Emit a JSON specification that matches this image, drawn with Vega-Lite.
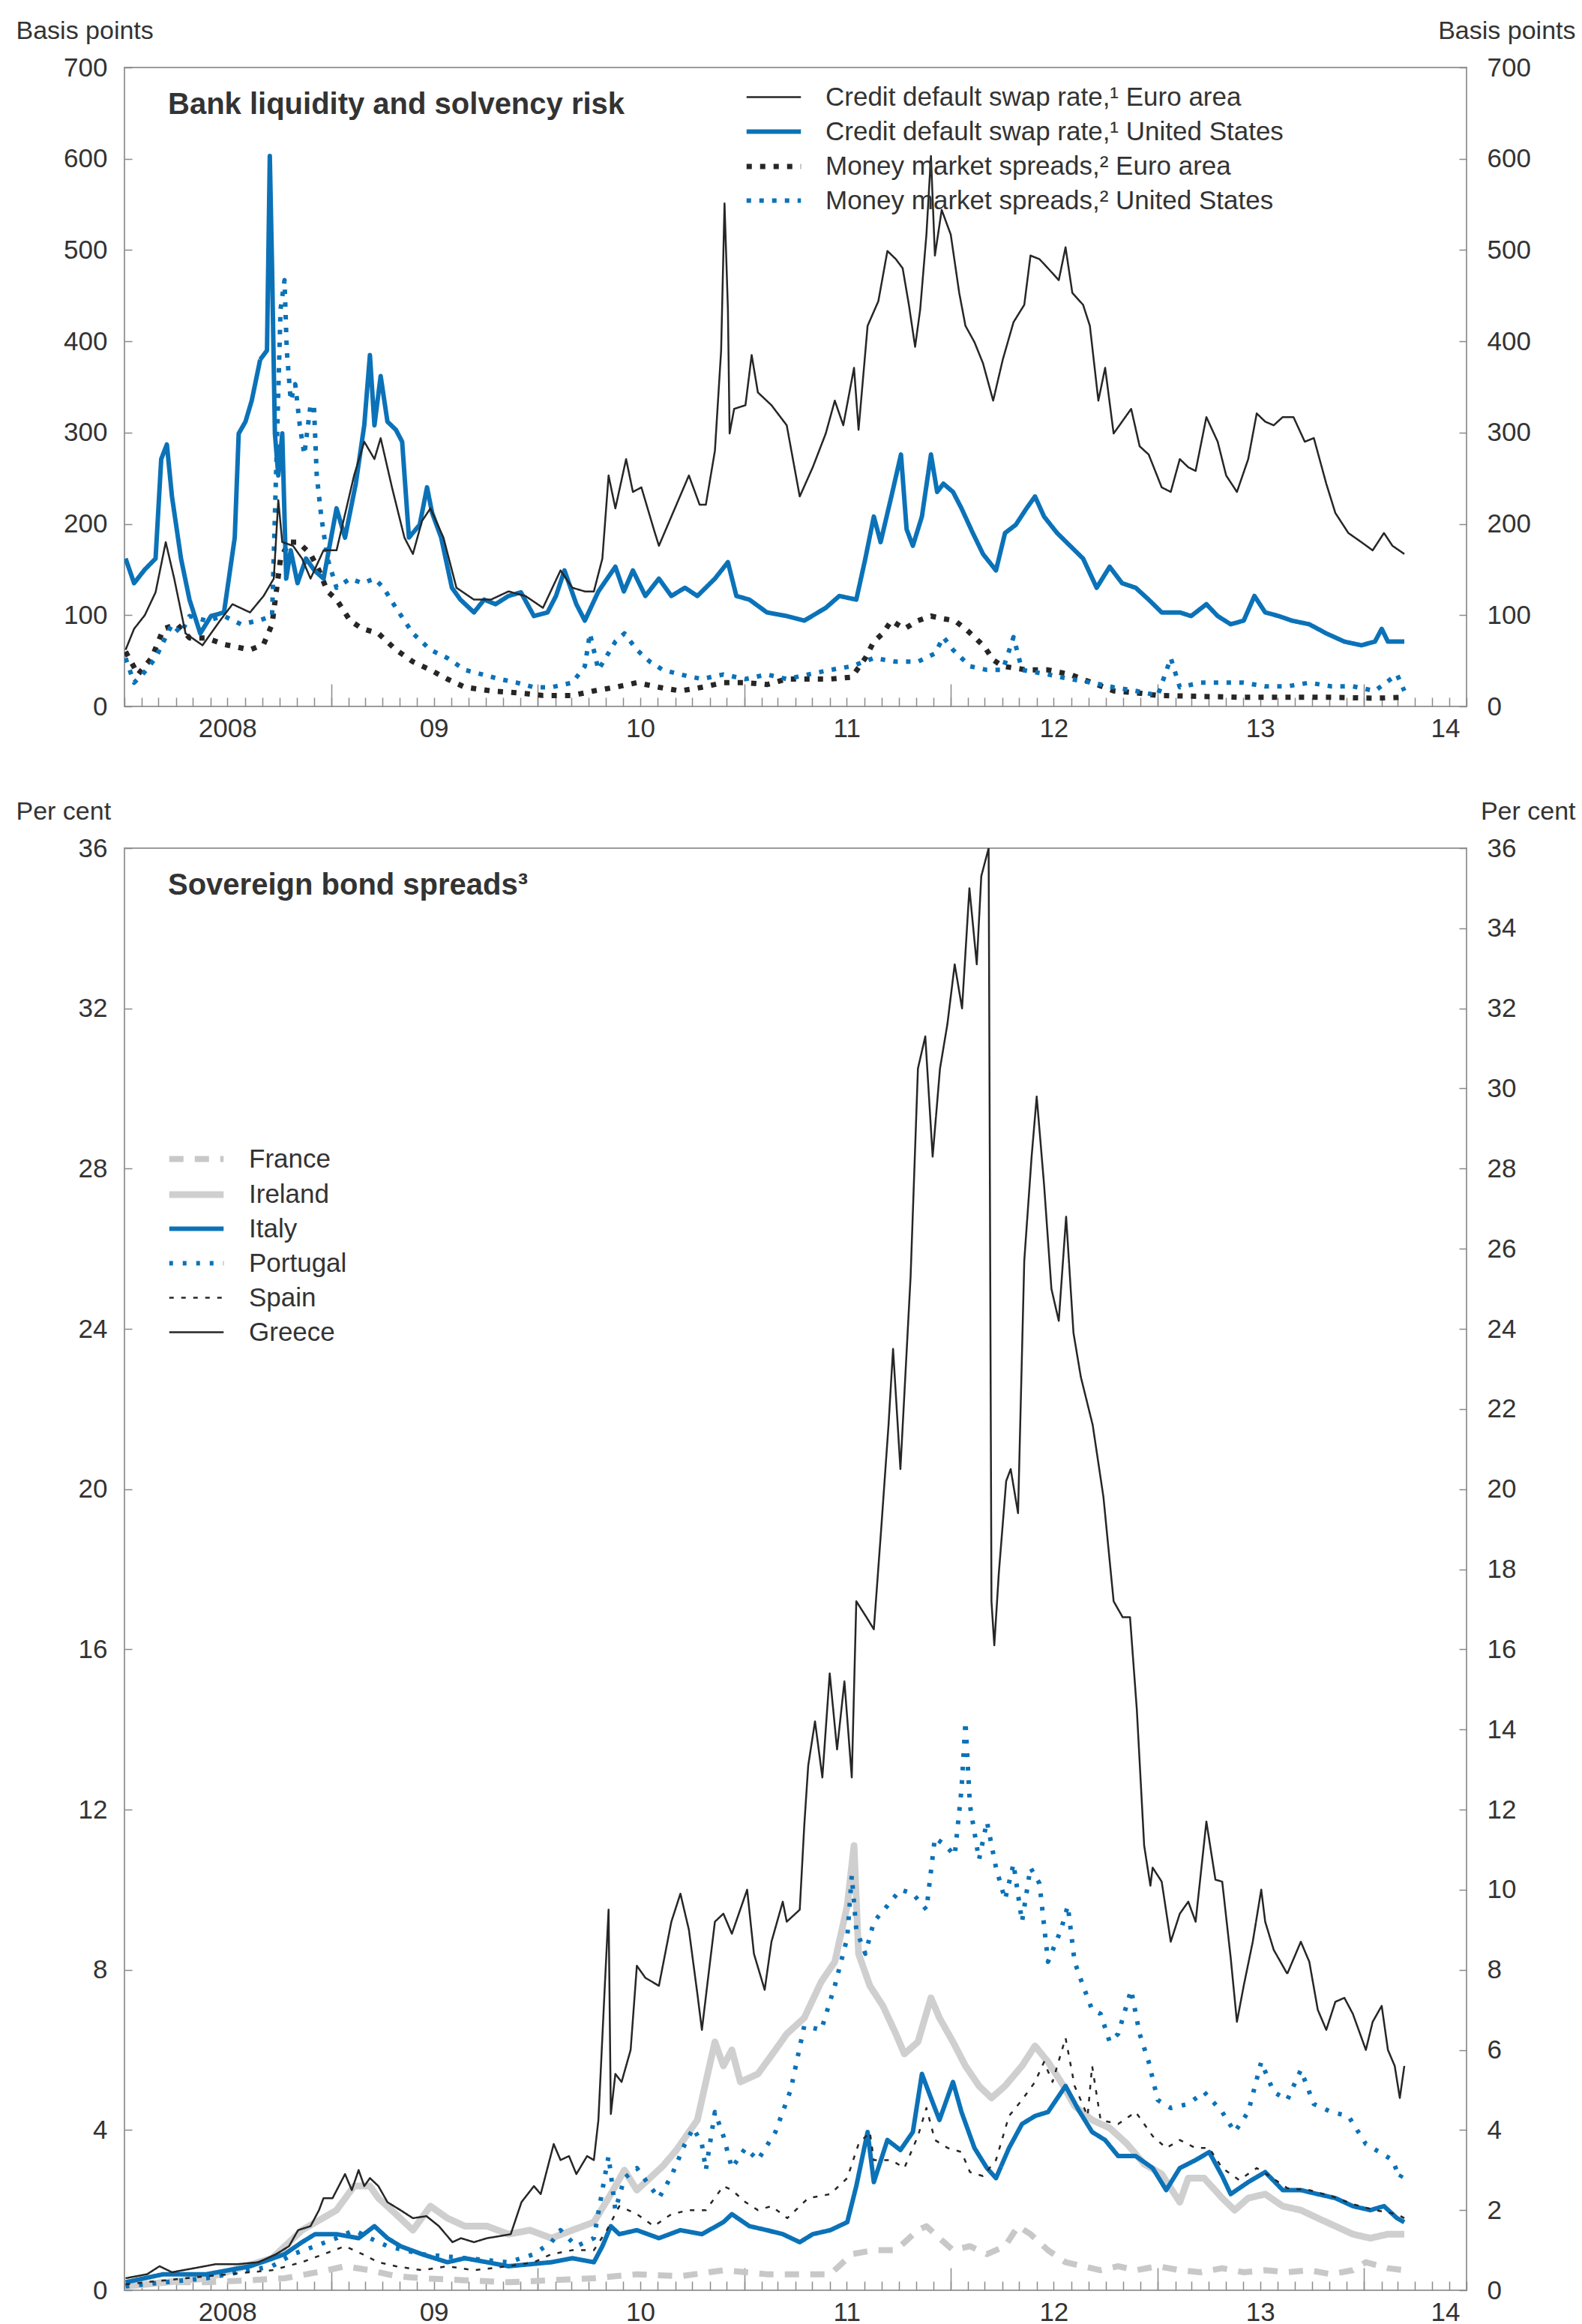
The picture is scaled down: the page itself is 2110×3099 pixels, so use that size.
{
  "$schema": "https://vega.github.io/schema/vega-lite/v6.json",
  "background": "white",
  "padding": {"left": 20, "top": 23, "right": 10, "bottom": 0},
  "bounds": "flush",
  "spacing": 189,
  "resolve": {
    "scale": {"color": "independent", "strokeDash": "independent", "strokeWidth": "independent"},
    "legend": {"color": "independent", "strokeDash": "independent", "strokeWidth": "independent"}
  },
  "config": {
    "font": "Liberation Sans",
    "view": {"stroke": "#9c9c9c", "strokeWidth": 2},
    "axis": {
      "domain": false, "grid": false,
      "labelFont": "Liberation Sans", "labelFontSize": 35, "labelColor": "#333333",
      "tickColor": "#8a8a8a", "tickWidth": 1.5,
      "titleFont": "Liberation Sans", "titleFontSize": 34, "titleFontWeight": "normal", "titleColor": "#333333"
    },
    "legend": {
      "labelFont": "Liberation Sans", "labelFontSize": 35, "labelColor": "#333333",
      "symbolType": "M-2.5,0H2.5", "symbolSize": 841, "labelOffset": 51, "rowPadding": 10, "padding": 0, "labelLimit": 0
    }
  },
  "datasets": {
    "bank": [
      {"s":"ea_mm","d":"2008-01-03","v":60},{"s":"ea_mm","d":"2008-01-25","v":35},{"s":"ea_mm","d":"2008-02-18","v":53},{"s":"ea_mm","d":"2008-03-10","v":85},{"s":"ea_mm","d":"2008-04-03","v":90},{"s":"ea_mm","d":"2008-04-25","v":75},{"s":"ea_mm","d":"2008-05-25","v":75},{"s":"ea_mm","d":"2008-06-25","v":68},{"s":"ea_mm","d":"2008-08-10","v":62},{"s":"ea_mm","d":"2008-09-03","v":68},{"s":"ea_mm","d":"2008-09-18","v":90},{"s":"ea_mm","d":"2008-10-03","v":162},{"s":"ea_mm","d":"2008-10-18","v":180},{"s":"ea_mm","d":"2008-11-03","v":180},{"s":"ea_mm","d":"2008-11-25","v":167},{"s":"ea_mm","d":"2008-12-10","v":149},{"s":"ea_mm","d":"2008-12-25","v":126},{"s":"ea_mm","d":"2009-01-10","v":117},{"s":"ea_mm","d":"2009-02-03","v":94},{"s":"ea_mm","d":"2009-02-25","v":85},{"s":"ea_mm","d":"2009-03-25","v":80},{"s":"ea_mm","d":"2009-04-25","v":62},{"s":"ea_mm","d":"2009-05-25","v":49},{"s":"ea_mm","d":"2009-06-25","v":40},{"s":"ea_mm","d":"2009-07-25","v":30},{"s":"ea_mm","d":"2009-08-25","v":21},{"s":"ea_mm","d":"2009-10-10","v":17},{"s":"ea_mm","d":"2009-11-25","v":15},{"s":"ea_mm","d":"2010-01-10","v":12},{"s":"ea_mm","d":"2010-03-03","v":12},{"s":"ea_mm","d":"2010-04-10","v":17},{"s":"ea_mm","d":"2010-05-18","v":21},{"s":"ea_mm","d":"2010-06-25","v":26},{"s":"ea_mm","d":"2010-08-03","v":21},{"s":"ea_mm","d":"2010-09-10","v":17},{"s":"ea_mm","d":"2010-10-18","v":21},{"s":"ea_mm","d":"2010-11-25","v":26},{"s":"ea_mm","d":"2011-01-03","v":26},{"s":"ea_mm","d":"2011-02-10","v":24},{"s":"ea_mm","d":"2011-03-17","v":30},{"s":"ea_mm","d":"2011-04-24","v":30},{"s":"ea_mm","d":"2011-06-02","v":30},{"s":"ea_mm","d":"2011-07-10","v":32},{"s":"ea_mm","d":"2011-08-03","v":53},{"s":"ea_mm","d":"2011-08-18","v":71},{"s":"ea_mm","d":"2011-09-03","v":80},{"s":"ea_mm","d":"2011-09-18","v":94},{"s":"ea_mm","d":"2011-10-11","v":85},{"s":"ea_mm","d":"2011-11-04","v":94},{"s":"ea_mm","d":"2011-11-27","v":99},{"s":"ea_mm","d":"2011-12-19","v":96},{"s":"ea_mm","d":"2012-01-08","v":94},{"s":"ea_mm","d":"2012-01-27","v":85},{"s":"ea_mm","d":"2012-02-12","v":76},{"s":"ea_mm","d":"2012-03-01","v":65},{"s":"ea_mm","d":"2012-03-16","v":51},{"s":"ea_mm","d":"2012-04-02","v":44},{"s":"ea_mm","d":"2012-05-14","v":40},{"s":"ea_mm","d":"2012-06-21","v":40},{"s":"ea_mm","d":"2012-07-30","v":35},{"s":"ea_mm","d":"2012-09-07","v":26},{"s":"ea_mm","d":"2012-10-15","v":17},{"s":"ea_mm","d":"2012-11-23","v":15},{"s":"ea_mm","d":"2013-01-01","v":12},{"s":"ea_mm","d":"2013-03-17","v":11},{"s":"ea_mm","d":"2013-06-02","v":10},{"s":"ea_mm","d":"2013-08-18","v":10},{"s":"ea_mm","d":"2013-11-04","v":10},{"s":"ea_mm","d":"2014-01-20","v":9},{"s":"ea_mm","d":"2014-03-13","v":10},
      {"s":"us_mm","d":"2008-01-03","v":53},{"s":"us_mm","d":"2008-01-18","v":26},{"s":"us_mm","d":"2008-02-02","v":35},{"s":"us_mm","d":"2008-02-25","v":53},{"s":"us_mm","d":"2008-03-10","v":71},{"s":"us_mm","d":"2008-03-25","v":90},{"s":"us_mm","d":"2008-04-10","v":80},{"s":"us_mm","d":"2008-04-25","v":99},{"s":"us_mm","d":"2008-05-25","v":94},{"s":"us_mm","d":"2008-06-25","v":99},{"s":"us_mm","d":"2008-07-25","v":90},{"s":"us_mm","d":"2008-08-25","v":94},{"s":"us_mm","d":"2008-09-18","v":99},{"s":"us_mm","d":"2008-09-25","v":253},{"s":"us_mm","d":"2008-10-03","v":435},{"s":"us_mm","d":"2008-10-10","v":467},{"s":"us_mm","d":"2008-10-14","v":390},{"s":"us_mm","d":"2008-10-21","v":335},{"s":"us_mm","d":"2008-10-29","v":353},{"s":"us_mm","d":"2008-11-06","v":308},{"s":"us_mm","d":"2008-11-14","v":276},{"s":"us_mm","d":"2008-11-25","v":330},{"s":"us_mm","d":"2008-12-01","v":330},{"s":"us_mm","d":"2008-12-06","v":253},{"s":"us_mm","d":"2008-12-14","v":208},{"s":"us_mm","d":"2008-12-25","v":162},{"s":"us_mm","d":"2009-01-10","v":130},{"s":"us_mm","d":"2009-02-03","v":140},{"s":"us_mm","d":"2009-02-25","v":135},{"s":"us_mm","d":"2009-03-18","v":140},{"s":"us_mm","d":"2009-04-03","v":130},{"s":"us_mm","d":"2009-04-25","v":108},{"s":"us_mm","d":"2009-05-25","v":80},{"s":"us_mm","d":"2009-06-25","v":62},{"s":"us_mm","d":"2009-07-25","v":53},{"s":"us_mm","d":"2009-08-25","v":40},{"s":"us_mm","d":"2009-09-25","v":35},{"s":"us_mm","d":"2009-10-25","v":30},{"s":"us_mm","d":"2009-11-25","v":26},{"s":"us_mm","d":"2009-12-25","v":21},{"s":"us_mm","d":"2010-01-25","v":21},{"s":"us_mm","d":"2010-03-03","v":26},{"s":"us_mm","d":"2010-03-25","v":44},{"s":"us_mm","d":"2010-04-03","v":80},{"s":"us_mm","d":"2010-04-18","v":40},{"s":"us_mm","d":"2010-05-18","v":71},{"s":"us_mm","d":"2010-06-03","v":80},{"s":"us_mm","d":"2010-06-25","v":62},{"s":"us_mm","d":"2010-07-18","v":49},{"s":"us_mm","d":"2010-08-10","v":40},{"s":"us_mm","d":"2010-09-10","v":35},{"s":"us_mm","d":"2010-10-18","v":30},{"s":"us_mm","d":"2010-11-25","v":35},{"s":"us_mm","d":"2011-01-03","v":30},{"s":"us_mm","d":"2011-02-10","v":35},{"s":"us_mm","d":"2011-03-17","v":30},{"s":"us_mm","d":"2011-04-24","v":35},{"s":"us_mm","d":"2011-06-02","v":40},{"s":"us_mm","d":"2011-07-10","v":44},{"s":"us_mm","d":"2011-08-18","v":53},{"s":"us_mm","d":"2011-09-26","v":49},{"s":"us_mm","d":"2011-11-04","v":49},{"s":"us_mm","d":"2011-12-04","v":58},{"s":"us_mm","d":"2011-12-19","v":76},{"s":"us_mm","d":"2012-01-05","v":62},{"s":"us_mm","d":"2012-01-20","v":53},{"s":"us_mm","d":"2012-02-04","v":44},{"s":"us_mm","d":"2012-03-05","v":40},{"s":"us_mm","d":"2012-04-02","v":40},{"s":"us_mm","d":"2012-04-21","v":76},{"s":"us_mm","d":"2012-05-06","v":40},{"s":"us_mm","d":"2012-06-21","v":35},{"s":"us_mm","d":"2012-07-30","v":30},{"s":"us_mm","d":"2012-09-07","v":26},{"s":"us_mm","d":"2012-10-15","v":21},{"s":"us_mm","d":"2012-11-23","v":17},{"s":"us_mm","d":"2013-01-01","v":12},{"s":"us_mm","d":"2013-01-24","v":53},{"s":"us_mm","d":"2013-02-09","v":21},{"s":"us_mm","d":"2013-03-17","v":26},{"s":"us_mm","d":"2013-05-02","v":26},{"s":"us_mm","d":"2013-06-02","v":26},{"s":"us_mm","d":"2013-07-10","v":22},{"s":"us_mm","d":"2013-08-18","v":22},{"s":"us_mm","d":"2013-09-26","v":26},{"s":"us_mm","d":"2013-11-04","v":22},{"s":"us_mm","d":"2013-12-12","v":22},{"s":"us_mm","d":"2014-01-20","v":17},{"s":"us_mm","d":"2014-02-28","v":35},{"s":"us_mm","d":"2014-03-13","v":17},
      {"s":"us_cds","d":"2008-01-03","v":162},{"s":"us_cds","d":"2008-01-18","v":135},{"s":"us_cds","d":"2008-02-06","v":150},{"s":"us_cds","d":"2008-02-25","v":162},{"s":"us_cds","d":"2008-03-06","v":271},{"s":"us_cds","d":"2008-03-16","v":287},{"s":"us_cds","d":"2008-03-25","v":230},{"s":"us_cds","d":"2008-04-10","v":162},{"s":"us_cds","d":"2008-04-25","v":117},{"s":"us_cds","d":"2008-05-14","v":80},{"s":"us_cds","d":"2008-06-02","v":99},{"s":"us_cds","d":"2008-06-25","v":103},{"s":"us_cds","d":"2008-07-14","v":185},{"s":"us_cds","d":"2008-07-21","v":299},{"s":"us_cds","d":"2008-08-02","v":312},{"s":"us_cds","d":"2008-08-13","v":335},{"s":"us_cds","d":"2008-08-28","v":380},{"s":"us_cds","d":"2008-09-09","v":390},{"s":"us_cds","d":"2008-09-14","v":603},{"s":"us_cds","d":"2008-09-18","v":480},{"s":"us_cds","d":"2008-09-23","v":299},{"s":"us_cds","d":"2008-09-29","v":253},{"s":"us_cds","d":"2008-10-06","v":299},{"s":"us_cds","d":"2008-10-13","v":140},{"s":"us_cds","d":"2008-10-21","v":171},{"s":"us_cds","d":"2008-11-02","v":135},{"s":"us_cds","d":"2008-11-17","v":162},{"s":"us_cds","d":"2008-12-02","v":149},{"s":"us_cds","d":"2008-12-18","v":140},{"s":"us_cds","d":"2009-01-10","v":217},{"s":"us_cds","d":"2009-01-25","v":185},{"s":"us_cds","d":"2009-02-13","v":244},{"s":"us_cds","d":"2009-02-28","v":308},{"s":"us_cds","d":"2009-03-10","v":385},{"s":"us_cds","d":"2009-03-18","v":308},{"s":"us_cds","d":"2009-03-29","v":362},{"s":"us_cds","d":"2009-04-10","v":312},{"s":"us_cds","d":"2009-04-25","v":303},{"s":"us_cds","d":"2009-05-06","v":290},{"s":"us_cds","d":"2009-05-18","v":185},{"s":"us_cds","d":"2009-06-06","v":199},{"s":"us_cds","d":"2009-06-19","v":240},{"s":"us_cds","d":"2009-06-28","v":212},{"s":"us_cds","d":"2009-07-14","v":185},{"s":"us_cds","d":"2009-08-02","v":130},{"s":"us_cds","d":"2009-08-17","v":117},{"s":"us_cds","d":"2009-09-10","v":103},{"s":"us_cds","d":"2009-09-28","v":117},{"s":"us_cds","d":"2009-10-18","v":112},{"s":"us_cds","d":"2009-11-10","v":121},{"s":"us_cds","d":"2009-12-02","v":125},{"s":"us_cds","d":"2009-12-25","v":99},{"s":"us_cds","d":"2010-01-18","v":103},{"s":"us_cds","d":"2010-02-02","v":121},{"s":"us_cds","d":"2010-02-17","v":149},{"s":"us_cds","d":"2010-03-10","v":112},{"s":"us_cds","d":"2010-03-25","v":94},{"s":"us_cds","d":"2010-04-18","v":126},{"s":"us_cds","d":"2010-05-18","v":153},{"s":"us_cds","d":"2010-06-02","v":126},{"s":"us_cds","d":"2010-06-18","v":149},{"s":"us_cds","d":"2010-07-10","v":121},{"s":"us_cds","d":"2010-08-03","v":140},{"s":"us_cds","d":"2010-08-25","v":121},{"s":"us_cds","d":"2010-09-18","v":130},{"s":"us_cds","d":"2010-10-10","v":121},{"s":"us_cds","d":"2010-11-10","v":140},{"s":"us_cds","d":"2010-12-03","v":158},{"s":"us_cds","d":"2010-12-18","v":121},{"s":"us_cds","d":"2011-01-10","v":117},{"s":"us_cds","d":"2011-02-10","v":103},{"s":"us_cds","d":"2011-03-17","v":99},{"s":"us_cds","d":"2011-04-17","v":94},{"s":"us_cds","d":"2011-05-25","v":108},{"s":"us_cds","d":"2011-06-18","v":121},{"s":"us_cds","d":"2011-07-18","v":117},{"s":"us_cds","d":"2011-08-03","v":162},{"s":"us_cds","d":"2011-08-18","v":208},{"s":"us_cds","d":"2011-08-30","v":180},{"s":"us_cds","d":"2011-09-18","v":230},{"s":"us_cds","d":"2011-10-05","v":276},{"s":"us_cds","d":"2011-10-15","v":194},{"s":"us_cds","d":"2011-10-26","v":176},{"s":"us_cds","d":"2011-11-11","v":208},{"s":"us_cds","d":"2011-11-27","v":276},{"s":"us_cds","d":"2011-12-08","v":235},{"s":"us_cds","d":"2011-12-19","v":244},{"s":"us_cds","d":"2012-01-05","v":235},{"s":"us_cds","d":"2012-01-20","v":217},{"s":"us_cds","d":"2012-02-09","v":190},{"s":"us_cds","d":"2012-02-27","v":167},{"s":"us_cds","d":"2012-03-21","v":149},{"s":"us_cds","d":"2012-04-06","v":190},{"s":"us_cds","d":"2012-04-25","v":199},{"s":"us_cds","d":"2012-05-14","v":217},{"s":"us_cds","d":"2012-05-29","v":230},{"s":"us_cds","d":"2012-06-14","v":208},{"s":"us_cds","d":"2012-07-07","v":190},{"s":"us_cds","d":"2012-07-30","v":176},{"s":"us_cds","d":"2012-08-22","v":162},{"s":"us_cds","d":"2012-09-15","v":130},{"s":"us_cds","d":"2012-10-08","v":153},{"s":"us_cds","d":"2012-10-30","v":135},{"s":"us_cds","d":"2012-11-23","v":130},{"s":"us_cds","d":"2012-12-16","v":117},{"s":"us_cds","d":"2013-01-08","v":103},{"s":"us_cds","d":"2013-02-09","v":103},{"s":"us_cds","d":"2013-03-01","v":99},{"s":"us_cds","d":"2013-03-28","v":112},{"s":"us_cds","d":"2013-04-17","v":99},{"s":"us_cds","d":"2013-05-10","v":90},{"s":"us_cds","d":"2013-06-02","v":94},{"s":"us_cds","d":"2013-06-21","v":121},{"s":"us_cds","d":"2013-07-10","v":103},{"s":"us_cds","d":"2013-08-03","v":99},{"s":"us_cds","d":"2013-08-26","v":94},{"s":"us_cds","d":"2013-09-26","v":90},{"s":"us_cds","d":"2013-10-26","v":80},{"s":"us_cds","d":"2013-11-27","v":71},{"s":"us_cds","d":"2013-12-27","v":67},{"s":"us_cds","d":"2014-01-20","v":71},{"s":"us_cds","d":"2014-02-01","v":85},{"s":"us_cds","d":"2014-02-12","v":71},{"s":"us_cds","d":"2014-03-13","v":71},
      {"s":"ea_cds","d":"2008-01-03","v":62},{"s":"ea_cds","d":"2008-01-18","v":85},{"s":"ea_cds","d":"2008-02-06","v":100},{"s":"ea_cds","d":"2008-02-25","v":125},{"s":"ea_cds","d":"2008-03-14","v":180},{"s":"ea_cds","d":"2008-03-29","v":140},{"s":"ea_cds","d":"2008-04-18","v":80},{"s":"ea_cds","d":"2008-05-18","v":67},{"s":"ea_cds","d":"2008-06-18","v":94},{"s":"ea_cds","d":"2008-07-10","v":112},{"s":"ea_cds","d":"2008-08-10","v":103},{"s":"ea_cds","d":"2008-09-03","v":121},{"s":"ea_cds","d":"2008-09-21","v":140},{"s":"ea_cds","d":"2008-09-29","v":226},{"s":"ea_cds","d":"2008-10-06","v":180},{"s":"ea_cds","d":"2008-10-25","v":176},{"s":"ea_cds","d":"2008-11-10","v":162},{"s":"ea_cds","d":"2008-11-25","v":140},{"s":"ea_cds","d":"2008-12-18","v":171},{"s":"ea_cds","d":"2009-01-10","v":171},{"s":"ea_cds","d":"2009-02-10","v":253},{"s":"ea_cds","d":"2009-02-28","v":290},{"s":"ea_cds","d":"2009-03-18","v":271},{"s":"ea_cds","d":"2009-03-29","v":294},{"s":"ea_cds","d":"2009-04-18","v":240},{"s":"ea_cds","d":"2009-05-10","v":185},{"s":"ea_cds","d":"2009-05-25","v":167},{"s":"ea_cds","d":"2009-06-10","v":203},{"s":"ea_cds","d":"2009-06-25","v":217},{"s":"ea_cds","d":"2009-07-18","v":185},{"s":"ea_cds","d":"2009-08-10","v":130},{"s":"ea_cds","d":"2009-09-10","v":117},{"s":"ea_cds","d":"2009-10-10","v":117},{"s":"ea_cds","d":"2009-11-10","v":126},{"s":"ea_cds","d":"2009-12-10","v":121},{"s":"ea_cds","d":"2010-01-10","v":108},{"s":"ea_cds","d":"2010-02-10","v":149},{"s":"ea_cds","d":"2010-03-03","v":130},{"s":"ea_cds","d":"2010-03-25","v":126},{"s":"ea_cds","d":"2010-04-10","v":126},{"s":"ea_cds","d":"2010-04-25","v":162},{"s":"ea_cds","d":"2010-05-06","v":253},{"s":"ea_cds","d":"2010-05-18","v":217},{"s":"ea_cds","d":"2010-06-06","v":271},{"s":"ea_cds","d":"2010-06-18","v":235},{"s":"ea_cds","d":"2010-07-03","v":240},{"s":"ea_cds","d":"2010-07-25","v":194},{"s":"ea_cds","d":"2010-08-03","v":176},{"s":"ea_cds","d":"2010-08-25","v":208},{"s":"ea_cds","d":"2010-09-25","v":253},{"s":"ea_cds","d":"2010-10-14","v":221},{"s":"ea_cds","d":"2010-10-25","v":221},{"s":"ea_cds","d":"2010-11-10","v":280},{"s":"ea_cds","d":"2010-11-21","v":390},{"s":"ea_cds","d":"2010-11-27","v":551},{"s":"ea_cds","d":"2010-12-03","v":435},{"s":"ea_cds","d":"2010-12-06","v":299},{"s":"ea_cds","d":"2010-12-14","v":326},{"s":"ea_cds","d":"2011-01-03","v":330},{"s":"ea_cds","d":"2011-01-14","v":385},{"s":"ea_cds","d":"2011-01-25","v":344},{"s":"ea_cds","d":"2011-02-18","v":330},{"s":"ea_cds","d":"2011-03-17","v":308},{"s":"ea_cds","d":"2011-04-09","v":230},{"s":"ea_cds","d":"2011-05-02","v":262},{"s":"ea_cds","d":"2011-05-25","v":299},{"s":"ea_cds","d":"2011-06-10","v":335},{"s":"ea_cds","d":"2011-06-25","v":308},{"s":"ea_cds","d":"2011-07-14","v":371},{"s":"ea_cds","d":"2011-07-22","v":303},{"s":"ea_cds","d":"2011-08-07","v":417},{"s":"ea_cds","d":"2011-08-26","v":444},{"s":"ea_cds","d":"2011-09-11","v":499},{"s":"ea_cds","d":"2011-09-26","v":490},{"s":"ea_cds","d":"2011-10-08","v":480},{"s":"ea_cds","d":"2011-10-19","v":440},{"s":"ea_cds","d":"2011-10-30","v":394},{"s":"ea_cds","d":"2011-11-08","v":435},{"s":"ea_cds","d":"2011-11-19","v":517},{"s":"ea_cds","d":"2011-11-27","v":603},{"s":"ea_cds","d":"2011-12-04","v":494},{"s":"ea_cds","d":"2011-12-16","v":544},{"s":"ea_cds","d":"2012-01-01","v":517},{"s":"ea_cds","d":"2012-01-16","v":453},{"s":"ea_cds","d":"2012-01-27","v":417},{"s":"ea_cds","d":"2012-02-12","v":399},{"s":"ea_cds","d":"2012-02-27","v":376},{"s":"ea_cds","d":"2012-03-16","v":335},{"s":"ea_cds","d":"2012-04-02","v":380},{"s":"ea_cds","d":"2012-04-21","v":421},{"s":"ea_cds","d":"2012-05-10","v":440},{"s":"ea_cds","d":"2012-05-21","v":494},{"s":"ea_cds","d":"2012-06-06","v":490},{"s":"ea_cds","d":"2012-06-21","v":480},{"s":"ea_cds","d":"2012-07-10","v":467},{"s":"ea_cds","d":"2012-07-22","v":503},{"s":"ea_cds","d":"2012-08-03","v":453},{"s":"ea_cds","d":"2012-08-22","v":440},{"s":"ea_cds","d":"2012-09-03","v":417},{"s":"ea_cds","d":"2012-09-18","v":335},{"s":"ea_cds","d":"2012-09-30","v":371},{"s":"ea_cds","d":"2012-10-15","v":299},{"s":"ea_cds","d":"2012-11-15","v":326},{"s":"ea_cds","d":"2012-11-30","v":285},{"s":"ea_cds","d":"2012-12-16","v":276},{"s":"ea_cds","d":"2013-01-08","v":240},{"s":"ea_cds","d":"2013-01-24","v":235},{"s":"ea_cds","d":"2013-02-09","v":271},{"s":"ea_cds","d":"2013-02-24","v":262},{"s":"ea_cds","d":"2013-03-09","v":258},{"s":"ea_cds","d":"2013-03-28","v":317},{"s":"ea_cds","d":"2013-04-17","v":290},{"s":"ea_cds","d":"2013-05-02","v":253},{"s":"ea_cds","d":"2013-05-21","v":235},{"s":"ea_cds","d":"2013-06-10","v":271},{"s":"ea_cds","d":"2013-06-25","v":321},{"s":"ea_cds","d":"2013-07-10","v":312},{"s":"ea_cds","d":"2013-07-25","v":308},{"s":"ea_cds","d":"2013-08-10","v":317},{"s":"ea_cds","d":"2013-08-29","v":317},{"s":"ea_cds","d":"2013-09-18","v":290},{"s":"ea_cds","d":"2013-10-04","v":294},{"s":"ea_cds","d":"2013-10-26","v":244},{"s":"ea_cds","d":"2013-11-11","v":212},{"s":"ea_cds","d":"2013-12-04","v":190},{"s":"ea_cds","d":"2013-12-27","v":180},{"s":"ea_cds","d":"2014-01-16","v":171},{"s":"ea_cds","d":"2014-02-05","v":190},{"s":"ea_cds","d":"2014-02-20","v":176},{"s":"ea_cds","d":"2014-03-13","v":167}
    ],
    "sov": [
      {"s":"France","d":"2008-01-03","v":0.1},{"s":"France","d":"2008-03-10","v":0.2},{"s":"France","d":"2008-05-25","v":0.2},{"s":"France","d":"2008-08-10","v":0.25},{"s":"France","d":"2008-10-10","v":0.3},{"s":"France","d":"2008-11-18","v":0.4},{"s":"France","d":"2008-12-25","v":0.5},{"s":"France","d":"2009-01-25","v":0.6},{"s":"France","d":"2009-03-10","v":0.5},{"s":"France","d":"2009-04-25","v":0.35},{"s":"France","d":"2009-06-10","v":0.3},{"s":"France","d":"2009-08-25","v":0.25},{"s":"France","d":"2009-11-10","v":0.2},{"s":"France","d":"2010-01-25","v":0.25},{"s":"France","d":"2010-04-10","v":0.3},{"s":"France","d":"2010-06-25","v":0.4},{"s":"France","d":"2010-09-10","v":0.35},{"s":"France","d":"2010-11-25","v":0.5},{"s":"France","d":"2011-02-10","v":0.4},{"s":"France","d":"2011-03-17","v":0.4},{"s":"France","d":"2011-06-02","v":0.4},{"s":"France","d":"2011-07-10","v":0.9},{"s":"France","d":"2011-08-18","v":1.0},{"s":"France","d":"2011-09-26","v":1.0},{"s":"France","d":"2011-11-04","v":1.5},{"s":"France","d":"2011-11-19","v":1.6},{"s":"France","d":"2011-12-12","v":1.3},{"s":"France","d":"2012-01-05","v":1.0},{"s":"France","d":"2012-02-04","v":1.1},{"s":"France","d":"2012-03-05","v":0.9},{"s":"France","d":"2012-04-06","v":1.1},{"s":"France","d":"2012-04-29","v":1.6},{"s":"France","d":"2012-05-21","v":1.4},{"s":"France","d":"2012-06-21","v":1.0},{"s":"France","d":"2012-07-22","v":0.7},{"s":"France","d":"2012-08-22","v":0.6},{"s":"France","d":"2012-09-22","v":0.5},{"s":"France","d":"2012-10-23","v":0.6},{"s":"France","d":"2012-11-23","v":0.5},{"s":"France","d":"2013-01-01","v":0.6},{"s":"France","d":"2013-02-09","v":0.5},{"s":"France","d":"2013-03-17","v":0.45},{"s":"France","d":"2013-04-25","v":0.55},{"s":"France","d":"2013-06-02","v":0.45},{"s":"France","d":"2013-07-10","v":0.5},{"s":"France","d":"2013-08-18","v":0.45},{"s":"France","d":"2013-09-26","v":0.5},{"s":"France","d":"2013-11-04","v":0.4},{"s":"France","d":"2013-12-12","v":0.5},{"s":"France","d":"2014-01-04","v":0.7},{"s":"France","d":"2014-02-12","v":0.55},{"s":"France","d":"2014-03-13","v":0.5},
      {"s":"Ireland","d":"2008-01-03","v":0.1},{"s":"Ireland","d":"2008-05-25","v":0.3},{"s":"Ireland","d":"2008-09-18","v":0.8},{"s":"Ireland","d":"2008-11-10","v":1.5},{"s":"Ireland","d":"2009-01-10","v":2.0},{"s":"Ireland","d":"2009-02-10","v":2.6},{"s":"Ireland","d":"2009-03-10","v":2.6},{"s":"Ireland","d":"2009-03-25","v":2.3},{"s":"Ireland","d":"2009-04-25","v":1.9},{"s":"Ireland","d":"2009-05-25","v":1.5},{"s":"Ireland","d":"2009-06-25","v":2.1},{"s":"Ireland","d":"2009-07-25","v":1.8},{"s":"Ireland","d":"2009-08-25","v":1.6},{"s":"Ireland","d":"2009-10-03","v":1.6},{"s":"Ireland","d":"2009-11-10","v":1.4},{"s":"Ireland","d":"2009-12-18","v":1.5},{"s":"Ireland","d":"2010-01-25","v":1.3},{"s":"Ireland","d":"2010-03-03","v":1.5},{"s":"Ireland","d":"2010-04-10","v":1.7},{"s":"Ireland","d":"2010-05-10","v":2.4},{"s":"Ireland","d":"2010-06-03","v":3.0},{"s":"Ireland","d":"2010-06-25","v":2.5},{"s":"Ireland","d":"2010-07-18","v":2.8},{"s":"Ireland","d":"2010-08-10","v":3.1},{"s":"Ireland","d":"2010-09-03","v":3.5},{"s":"Ireland","d":"2010-10-10","v":4.25},{"s":"Ireland","d":"2010-10-25","v":5.2},{"s":"Ireland","d":"2010-11-10","v":6.2},{"s":"Ireland","d":"2010-11-25","v":5.6},{"s":"Ireland","d":"2010-12-10","v":6.0},{"s":"Ireland","d":"2010-12-25","v":5.2},{"s":"Ireland","d":"2011-01-25","v":5.4},{"s":"Ireland","d":"2011-02-25","v":6.0},{"s":"Ireland","d":"2011-03-17","v":6.4},{"s":"Ireland","d":"2011-04-17","v":6.8},{"s":"Ireland","d":"2011-05-17","v":7.7},{"s":"Ireland","d":"2011-06-10","v":8.2},{"s":"Ireland","d":"2011-07-02","v":9.6},{"s":"Ireland","d":"2011-07-14","v":11.1},{"s":"Ireland","d":"2011-07-22","v":8.4},{"s":"Ireland","d":"2011-08-11","v":7.6},{"s":"Ireland","d":"2011-09-03","v":7.1},{"s":"Ireland","d":"2011-09-26","v":6.4},{"s":"Ireland","d":"2011-10-11","v":5.9},{"s":"Ireland","d":"2011-11-04","v":6.2},{"s":"Ireland","d":"2011-11-27","v":7.3},{"s":"Ireland","d":"2011-12-12","v":6.8},{"s":"Ireland","d":"2012-01-05","v":6.2},{"s":"Ireland","d":"2012-01-27","v":5.6},{"s":"Ireland","d":"2012-02-20","v":5.1},{"s":"Ireland","d":"2012-03-13","v":4.8},{"s":"Ireland","d":"2012-04-06","v":5.1},{"s":"Ireland","d":"2012-05-06","v":5.6},{"s":"Ireland","d":"2012-05-29","v":6.1},{"s":"Ireland","d":"2012-06-21","v":5.7},{"s":"Ireland","d":"2012-07-14","v":5.2},{"s":"Ireland","d":"2012-08-07","v":4.6},{"s":"Ireland","d":"2012-09-07","v":4.25},{"s":"Ireland","d":"2012-10-08","v":4.05},{"s":"Ireland","d":"2012-11-08","v":3.65},{"s":"Ireland","d":"2012-12-08","v":3.15},{"s":"Ireland","d":"2013-01-08","v":2.9},{"s":"Ireland","d":"2013-02-09","v":2.2},{"s":"Ireland","d":"2013-02-24","v":2.8},{"s":"Ireland","d":"2013-03-24","v":2.8},{"s":"Ireland","d":"2013-04-25","v":2.3},{"s":"Ireland","d":"2013-05-17","v":2.0},{"s":"Ireland","d":"2013-06-10","v":2.3},{"s":"Ireland","d":"2013-07-10","v":2.4},{"s":"Ireland","d":"2013-08-10","v":2.1},{"s":"Ireland","d":"2013-09-11","v":2.0},{"s":"Ireland","d":"2013-10-11","v":1.8},{"s":"Ireland","d":"2013-11-11","v":1.6},{"s":"Ireland","d":"2013-12-12","v":1.4},{"s":"Ireland","d":"2014-01-12","v":1.3},{"s":"Ireland","d":"2014-02-12","v":1.4},{"s":"Ireland","d":"2014-03-13","v":1.4},
      {"s":"Italy","d":"2008-01-03","v":0.2},{"s":"Italy","d":"2008-03-10","v":0.4},{"s":"Italy","d":"2008-05-25","v":0.4},{"s":"Italy","d":"2008-08-10","v":0.6},{"s":"Italy","d":"2008-10-10","v":0.9},{"s":"Italy","d":"2008-11-10","v":1.2},{"s":"Italy","d":"2008-12-03","v":1.4},{"s":"Italy","d":"2009-01-10","v":1.4},{"s":"Italy","d":"2009-02-18","v":1.3},{"s":"Italy","d":"2009-03-18","v":1.6},{"s":"Italy","d":"2009-04-10","v":1.3},{"s":"Italy","d":"2009-05-03","v":1.1},{"s":"Italy","d":"2009-06-10","v":0.9},{"s":"Italy","d":"2009-07-25","v":0.7},{"s":"Italy","d":"2009-08-25","v":0.8},{"s":"Italy","d":"2009-10-03","v":0.7},{"s":"Italy","d":"2009-11-10","v":0.6},{"s":"Italy","d":"2009-12-18","v":0.65},{"s":"Italy","d":"2010-01-25","v":0.7},{"s":"Italy","d":"2010-03-03","v":0.8},{"s":"Italy","d":"2010-04-10","v":0.7},{"s":"Italy","d":"2010-04-25","v":1.1},{"s":"Italy","d":"2010-05-10","v":1.6},{"s":"Italy","d":"2010-05-25","v":1.4},{"s":"Italy","d":"2010-06-25","v":1.5},{"s":"Italy","d":"2010-08-03","v":1.3},{"s":"Italy","d":"2010-09-10","v":1.5},{"s":"Italy","d":"2010-10-18","v":1.4},{"s":"Italy","d":"2010-11-25","v":1.7},{"s":"Italy","d":"2010-12-10","v":1.9},{"s":"Italy","d":"2011-01-10","v":1.6},{"s":"Italy","d":"2011-02-10","v":1.5},{"s":"Italy","d":"2011-03-10","v":1.4},{"s":"Italy","d":"2011-04-09","v":1.2},{"s":"Italy","d":"2011-05-02","v":1.4},{"s":"Italy","d":"2011-06-02","v":1.5},{"s":"Italy","d":"2011-07-02","v":1.7},{"s":"Italy","d":"2011-07-18","v":2.6},{"s":"Italy","d":"2011-08-07","v":3.95},{"s":"Italy","d":"2011-08-18","v":2.7},{"s":"Italy","d":"2011-09-11","v":3.75},{"s":"Italy","d":"2011-10-04","v":3.5},{"s":"Italy","d":"2011-10-26","v":3.95},{"s":"Italy","d":"2011-11-11","v":5.4},{"s":"Italy","d":"2011-11-27","v":4.8},{"s":"Italy","d":"2011-12-12","v":4.25},{"s":"Italy","d":"2012-01-05","v":5.2},{"s":"Italy","d":"2012-01-20","v":4.45},{"s":"Italy","d":"2012-02-12","v":3.55},{"s":"Italy","d":"2012-03-05","v":3.05},{"s":"Italy","d":"2012-03-21","v":2.8},{"s":"Italy","d":"2012-04-13","v":3.55},{"s":"Italy","d":"2012-05-06","v":4.15},{"s":"Italy","d":"2012-05-29","v":4.35},{"s":"Italy","d":"2012-06-21","v":4.45},{"s":"Italy","d":"2012-07-22","v":5.1},{"s":"Italy","d":"2012-08-14","v":4.5},{"s":"Italy","d":"2012-09-07","v":3.95},{"s":"Italy","d":"2012-09-30","v":3.75},{"s":"Italy","d":"2012-10-23","v":3.35},{"s":"Italy","d":"2012-11-23","v":3.35},{"s":"Italy","d":"2012-12-23","v":3.05},{"s":"Italy","d":"2013-01-16","v":2.5},{"s":"Italy","d":"2013-02-09","v":3.05},{"s":"Italy","d":"2013-03-09","v":3.25},{"s":"Italy","d":"2013-04-02","v":3.45},{"s":"Italy","d":"2013-04-25","v":2.85},{"s":"Italy","d":"2013-05-10","v":2.4},{"s":"Italy","d":"2013-06-10","v":2.7},{"s":"Italy","d":"2013-07-10","v":2.95},{"s":"Italy","d":"2013-08-10","v":2.5},{"s":"Italy","d":"2013-09-11","v":2.5},{"s":"Italy","d":"2013-10-11","v":2.4},{"s":"Italy","d":"2013-11-11","v":2.3},{"s":"Italy","d":"2013-12-12","v":2.1},{"s":"Italy","d":"2014-01-12","v":2.0},{"s":"Italy","d":"2014-02-05","v":2.1},{"s":"Italy","d":"2014-02-28","v":1.8},{"s":"Italy","d":"2014-03-13","v":1.7},
      {"s":"Portugal","d":"2008-01-03","v":0.1},{"s":"Portugal","d":"2008-05-25","v":0.3},{"s":"Portugal","d":"2008-09-18","v":0.6},{"s":"Portugal","d":"2008-10-25","v":0.9},{"s":"Portugal","d":"2008-12-03","v":1.1},{"s":"Portugal","d":"2009-01-10","v":1.3},{"s":"Portugal","d":"2009-02-10","v":1.5},{"s":"Portugal","d":"2009-03-10","v":1.3},{"s":"Portugal","d":"2009-04-10","v":1.1},{"s":"Portugal","d":"2009-06-10","v":0.9},{"s":"Portugal","d":"2009-08-25","v":0.8},{"s":"Portugal","d":"2009-11-10","v":0.7},{"s":"Portugal","d":"2009-12-25","v":0.9},{"s":"Portugal","d":"2010-01-25","v":1.2},{"s":"Portugal","d":"2010-02-10","v":1.5},{"s":"Portugal","d":"2010-03-10","v":1.1},{"s":"Portugal","d":"2010-04-10","v":1.3},{"s":"Portugal","d":"2010-04-25","v":2.5},{"s":"Portugal","d":"2010-05-06","v":3.35},{"s":"Portugal","d":"2010-05-18","v":2.0},{"s":"Portugal","d":"2010-06-03","v":2.8},{"s":"Portugal","d":"2010-06-25","v":3.05},{"s":"Portugal","d":"2010-07-18","v":2.6},{"s":"Portugal","d":"2010-08-03","v":2.3},{"s":"Portugal","d":"2010-08-25","v":2.85},{"s":"Portugal","d":"2010-09-18","v":3.65},{"s":"Portugal","d":"2010-10-03","v":4.05},{"s":"Portugal","d":"2010-10-18","v":3.65},{"s":"Portugal","d":"2010-10-25","v":3.0},{"s":"Portugal","d":"2010-11-10","v":4.45},{"s":"Portugal","d":"2010-11-25","v":3.85},{"s":"Portugal","d":"2010-12-10","v":3.05},{"s":"Portugal","d":"2011-01-03","v":3.55},{"s":"Portugal","d":"2011-01-25","v":3.25},{"s":"Portugal","d":"2011-02-25","v":3.95},{"s":"Portugal","d":"2011-03-24","v":5.0},{"s":"Portugal","d":"2011-04-17","v":6.6},{"s":"Portugal","d":"2011-05-17","v":6.5},{"s":"Portugal","d":"2011-06-10","v":7.6},{"s":"Portugal","d":"2011-07-02","v":8.8},{"s":"Portugal","d":"2011-07-10","v":10.35},{"s":"Portugal","d":"2011-07-18","v":9.0},{"s":"Portugal","d":"2011-08-03","v":8.4},{"s":"Portugal","d":"2011-08-18","v":9.2},{"s":"Portugal","d":"2011-09-11","v":9.6},{"s":"Portugal","d":"2011-10-04","v":10.0},{"s":"Portugal","d":"2011-10-26","v":9.9},{"s":"Portugal","d":"2011-11-19","v":9.5},{"s":"Portugal","d":"2011-12-04","v":11.3},{"s":"Portugal","d":"2011-12-23","v":11.1},{"s":"Portugal","d":"2012-01-08","v":10.85},{"s":"Portugal","d":"2012-01-20","v":12.5},{"s":"Portugal","d":"2012-01-27","v":14.2},{"s":"Portugal","d":"2012-02-04","v":12.1},{"s":"Portugal","d":"2012-02-20","v":10.75},{"s":"Portugal","d":"2012-03-05","v":11.7},{"s":"Portugal","d":"2012-03-21","v":10.55},{"s":"Portugal","d":"2012-04-06","v":9.75},{"s":"Portugal","d":"2012-04-21","v":10.65},{"s":"Portugal","d":"2012-05-06","v":9.2},{"s":"Portugal","d":"2012-05-21","v":10.55},{"s":"Portugal","d":"2012-06-06","v":10.15},{"s":"Portugal","d":"2012-06-21","v":8.2},{"s":"Portugal","d":"2012-07-14","v":9.0},{"s":"Portugal","d":"2012-07-26","v":9.6},{"s":"Portugal","d":"2012-08-07","v":8.2},{"s":"Portugal","d":"2012-08-22","v":7.6},{"s":"Portugal","d":"2012-09-07","v":7.0},{"s":"Portugal","d":"2012-09-22","v":6.9},{"s":"Portugal","d":"2012-10-08","v":6.2},{"s":"Portugal","d":"2012-10-23","v":6.4},{"s":"Portugal","d":"2012-11-15","v":7.5},{"s":"Portugal","d":"2012-11-30","v":6.4},{"s":"Portugal","d":"2012-12-16","v":5.7},{"s":"Portugal","d":"2013-01-01","v":4.75},{"s":"Portugal","d":"2013-01-24","v":4.55},{"s":"Portugal","d":"2013-02-24","v":4.65},{"s":"Portugal","d":"2013-03-24","v":4.95},{"s":"Portugal","d":"2013-04-25","v":4.45},{"s":"Portugal","d":"2013-05-17","v":3.95},{"s":"Portugal","d":"2013-06-10","v":4.45},{"s":"Portugal","d":"2013-07-03","v":5.7},{"s":"Portugal","d":"2013-07-25","v":4.95},{"s":"Portugal","d":"2013-08-18","v":4.75},{"s":"Portugal","d":"2013-09-11","v":5.5},{"s":"Portugal","d":"2013-10-04","v":4.65},{"s":"Portugal","d":"2013-11-04","v":4.45},{"s":"Portugal","d":"2013-12-04","v":4.35},{"s":"Portugal","d":"2014-01-04","v":3.65},{"s":"Portugal","d":"2014-01-28","v":3.45},{"s":"Portugal","d":"2014-02-20","v":3.25},{"s":"Portugal","d":"2014-03-05","v":2.8},{"s":"Portugal","d":"2014-03-13","v":3.0},
      {"s":"Spain","d":"2008-01-03","v":0.15},{"s":"Spain","d":"2008-05-25","v":0.35},{"s":"Spain","d":"2008-09-18","v":0.5},{"s":"Spain","d":"2008-11-10","v":0.7},{"s":"Spain","d":"2008-12-18","v":0.9},{"s":"Spain","d":"2009-01-25","v":1.1},{"s":"Spain","d":"2009-02-25","v":0.9},{"s":"Spain","d":"2009-03-25","v":0.7},{"s":"Spain","d":"2009-04-25","v":0.6},{"s":"Spain","d":"2009-06-10","v":0.5},{"s":"Spain","d":"2009-07-25","v":0.6},{"s":"Spain","d":"2009-09-10","v":0.5},{"s":"Spain","d":"2009-11-10","v":0.6},{"s":"Spain","d":"2009-12-25","v":0.7},{"s":"Spain","d":"2010-01-25","v":0.9},{"s":"Spain","d":"2010-03-03","v":1.0},{"s":"Spain","d":"2010-04-10","v":1.0},{"s":"Spain","d":"2010-05-03","v":1.5},{"s":"Spain","d":"2010-05-25","v":2.1},{"s":"Spain","d":"2010-06-25","v":1.9},{"s":"Spain","d":"2010-07-25","v":1.6},{"s":"Spain","d":"2010-08-25","v":1.9},{"s":"Spain","d":"2010-09-25","v":2.0},{"s":"Spain","d":"2010-10-25","v":2.0},{"s":"Spain","d":"2010-11-25","v":2.6},{"s":"Spain","d":"2010-12-10","v":2.5},{"s":"Spain","d":"2011-01-03","v":2.2},{"s":"Spain","d":"2011-01-25","v":2.0},{"s":"Spain","d":"2011-02-18","v":2.1},{"s":"Spain","d":"2011-03-18","v":1.8},{"s":"Spain","d":"2011-04-24","v":2.3},{"s":"Spain","d":"2011-06-02","v":2.4},{"s":"Spain","d":"2011-07-02","v":2.8},{"s":"Spain","d":"2011-07-22","v":3.65},{"s":"Spain","d":"2011-08-11","v":3.95},{"s":"Spain","d":"2011-08-18","v":3.25},{"s":"Spain","d":"2011-09-18","v":3.25},{"s":"Spain","d":"2011-10-11","v":3.05},{"s":"Spain","d":"2011-11-04","v":3.85},{"s":"Spain","d":"2011-11-19","v":4.55},{"s":"Spain","d":"2011-12-04","v":3.75},{"s":"Spain","d":"2011-12-27","v":3.55},{"s":"Spain","d":"2012-01-20","v":3.45},{"s":"Spain","d":"2012-02-04","v":2.95},{"s":"Spain","d":"2012-02-27","v":2.85},{"s":"Spain","d":"2012-03-21","v":3.25},{"s":"Spain","d":"2012-04-13","v":4.35},{"s":"Spain","d":"2012-05-06","v":4.75},{"s":"Spain","d":"2012-05-29","v":5.2},{"s":"Spain","d":"2012-06-14","v":5.7},{"s":"Spain","d":"2012-06-29","v":5.2},{"s":"Spain","d":"2012-07-22","v":6.3},{"s":"Spain","d":"2012-08-07","v":5.1},{"s":"Spain","d":"2012-08-30","v":4.35},{"s":"Spain","d":"2012-09-07","v":5.6},{"s":"Spain","d":"2012-09-22","v":4.25},{"s":"Spain","d":"2012-10-23","v":4.15},{"s":"Spain","d":"2012-11-23","v":4.45},{"s":"Spain","d":"2012-12-23","v":3.85},{"s":"Spain","d":"2013-01-16","v":3.55},{"s":"Spain","d":"2013-02-09","v":3.75},{"s":"Spain","d":"2013-03-09","v":3.55},{"s":"Spain","d":"2013-04-02","v":3.55},{"s":"Spain","d":"2013-04-25","v":3.05},{"s":"Spain","d":"2013-05-25","v":2.75},{"s":"Spain","d":"2013-06-25","v":3.05},{"s":"Spain","d":"2013-07-18","v":2.85},{"s":"Spain","d":"2013-08-18","v":2.55},{"s":"Spain","d":"2013-09-26","v":2.5},{"s":"Spain","d":"2013-11-04","v":2.35},{"s":"Spain","d":"2013-12-12","v":2.15},{"s":"Spain","d":"2014-01-20","v":2.0},{"s":"Spain","d":"2014-02-28","v":1.9},{"s":"Spain","d":"2014-03-13","v":1.8},
      {"s":"Greece","d":"2008-01-03","v":0.3},{"s":"Greece","d":"2008-02-10","v":0.4},{"s":"Greece","d":"2008-03-03","v":0.6},{"s":"Greece","d":"2008-03-25","v":0.45},{"s":"Greece","d":"2008-05-03","v":0.55},{"s":"Greece","d":"2008-06-10","v":0.65},{"s":"Greece","d":"2008-07-18","v":0.65},{"s":"Greece","d":"2008-08-25","v":0.7},{"s":"Greece","d":"2008-09-25","v":0.9},{"s":"Greece","d":"2008-10-18","v":1.1},{"s":"Greece","d":"2008-11-03","v":1.5},{"s":"Greece","d":"2008-11-25","v":1.6},{"s":"Greece","d":"2008-12-10","v":2.0},{"s":"Greece","d":"2008-12-18","v":2.3},{"s":"Greece","d":"2009-01-03","v":2.3},{"s":"Greece","d":"2009-01-25","v":2.9},{"s":"Greece","d":"2009-02-06","v":2.5},{"s":"Greece","d":"2009-02-18","v":3.0},{"s":"Greece","d":"2009-02-28","v":2.6},{"s":"Greece","d":"2009-03-10","v":2.8},{"s":"Greece","d":"2009-03-25","v":2.6},{"s":"Greece","d":"2009-04-10","v":2.2},{"s":"Greece","d":"2009-05-03","v":2.0},{"s":"Greece","d":"2009-05-25","v":1.8},{"s":"Greece","d":"2009-06-18","v":1.85},{"s":"Greece","d":"2009-07-10","v":1.6},{"s":"Greece","d":"2009-08-03","v":1.2},{"s":"Greece","d":"2009-08-18","v":1.3},{"s":"Greece","d":"2009-09-10","v":1.2},{"s":"Greece","d":"2009-10-03","v":1.3},{"s":"Greece","d":"2009-10-25","v":1.35},{"s":"Greece","d":"2009-11-14","v":1.4},{"s":"Greece","d":"2009-12-03","v":2.2},{"s":"Greece","d":"2009-12-25","v":2.6},{"s":"Greece","d":"2010-01-06","v":2.4},{"s":"Greece","d":"2010-01-29","v":3.65},{"s":"Greece","d":"2010-02-10","v":3.25},{"s":"Greece","d":"2010-02-25","v":3.35},{"s":"Greece","d":"2010-03-10","v":2.9},{"s":"Greece","d":"2010-03-29","v":3.35},{"s":"Greece","d":"2010-04-10","v":3.25},{"s":"Greece","d":"2010-04-18","v":4.25},{"s":"Greece","d":"2010-04-29","v":7.5},{"s":"Greece","d":"2010-05-06","v":9.5},{"s":"Greece","d":"2010-05-10","v":4.4},{"s":"Greece","d":"2010-05-18","v":5.4},{"s":"Greece","d":"2010-05-29","v":5.2},{"s":"Greece","d":"2010-06-14","v":6.0},{"s":"Greece","d":"2010-06-25","v":8.1},{"s":"Greece","d":"2010-07-10","v":7.8},{"s":"Greece","d":"2010-08-03","v":7.6},{"s":"Greece","d":"2010-08-25","v":9.2},{"s":"Greece","d":"2010-09-10","v":9.9},{"s":"Greece","d":"2010-09-25","v":9.0},{"s":"Greece","d":"2010-10-10","v":7.4},{"s":"Greece","d":"2010-10-18","v":6.5},{"s":"Greece","d":"2010-10-29","v":7.8},{"s":"Greece","d":"2010-11-10","v":9.2},{"s":"Greece","d":"2010-11-25","v":9.4},{"s":"Greece","d":"2010-12-10","v":8.9},{"s":"Greece","d":"2011-01-06","v":10.0},{"s":"Greece","d":"2011-01-18","v":8.4},{"s":"Greece","d":"2011-02-06","v":7.5},{"s":"Greece","d":"2011-02-18","v":8.7},{"s":"Greece","d":"2011-03-10","v":9.7},{"s":"Greece","d":"2011-03-17","v":9.2},{"s":"Greece","d":"2011-04-09","v":9.5},{"s":"Greece","d":"2011-04-17","v":11.6},{"s":"Greece","d":"2011-04-24","v":13.1},{"s":"Greece","d":"2011-05-06","v":14.2},{"s":"Greece","d":"2011-05-19","v":12.8},{"s":"Greece","d":"2011-06-01","v":15.4},{"s":"Greece","d":"2011-06-14","v":13.5},{"s":"Greece","d":"2011-06-27","v":15.2},{"s":"Greece","d":"2011-07-10","v":12.8},{"s":"Greece","d":"2011-07-18","v":17.2},{"s":"Greece","d":"2011-08-05","v":16.8},{"s":"Greece","d":"2011-08-18","v":16.5},{"s":"Greece","d":"2011-08-31","v":19.0},{"s":"Greece","d":"2011-09-13","v":21.6},{"s":"Greece","d":"2011-09-21","v":23.5},{"s":"Greece","d":"2011-10-04","v":20.5},{"s":"Greece","d":"2011-10-22","v":25.3},{"s":"Greece","d":"2011-11-04","v":30.5},{"s":"Greece","d":"2011-11-17","v":31.3},{"s":"Greece","d":"2011-11-30","v":28.3},{"s":"Greece","d":"2011-12-13","v":30.5},{"s":"Greece","d":"2011-12-26","v":31.6},{"s":"Greece","d":"2012-01-08","v":33.1},{"s":"Greece","d":"2012-01-21","v":32.0},{"s":"Greece","d":"2012-02-03","v":35.0},{"s":"Greece","d":"2012-02-16","v":33.1},{"s":"Greece","d":"2012-02-24","v":35.3},{"s":"Greece","d":"2012-03-08","v":36.0},{"s":"Greece","d":"2012-03-13","v":17.2},{"s":"Greece","d":"2012-03-18","v":16.1},{"s":"Greece","d":"2012-03-26","v":17.9},{"s":"Greece","d":"2012-04-08","v":20.2},{"s":"Greece","d":"2012-04-16","v":20.5},{"s":"Greece","d":"2012-04-29","v":19.4},{"s":"Greece","d":"2012-05-10","v":25.7},{"s":"Greece","d":"2012-05-23","v":28.3},{"s":"Greece","d":"2012-06-01","v":29.8},{"s":"Greece","d":"2012-06-14","v":27.6},{"s":"Greece","d":"2012-06-27","v":25.0},{"s":"Greece","d":"2012-07-10","v":24.2},{"s":"Greece","d":"2012-07-23","v":26.8},{"s":"Greece","d":"2012-08-05","v":23.9},{"s":"Greece","d":"2012-08-18","v":22.8},{"s":"Greece","d":"2012-09-08","v":21.6},{"s":"Greece","d":"2012-09-27","v":19.8},{"s":"Greece","d":"2012-10-15","v":17.2},{"s":"Greece","d":"2012-10-31","v":16.8},{"s":"Greece","d":"2012-11-13","v":16.8},{"s":"Greece","d":"2012-11-25","v":14.5},{"s":"Greece","d":"2012-12-08","v":11.1},{"s":"Greece","d":"2012-12-19","v":10.1},{"s":"Greece","d":"2012-12-23","v":10.55},{"s":"Greece","d":"2013-01-08","v":10.2},{"s":"Greece","d":"2013-01-24","v":8.7},{"s":"Greece","d":"2013-02-09","v":9.4},{"s":"Greece","d":"2013-02-24","v":9.7},{"s":"Greece","d":"2013-03-09","v":9.2},{"s":"Greece","d":"2013-03-28","v":11.7},{"s":"Greece","d":"2013-04-13","v":10.25},{"s":"Greece","d":"2013-04-25","v":10.2},{"s":"Greece","d":"2013-05-10","v":8.3},{"s":"Greece","d":"2013-05-21","v":6.7},{"s":"Greece","d":"2013-06-02","v":7.6},{"s":"Greece","d":"2013-06-18","v":8.7},{"s":"Greece","d":"2013-07-03","v":10.0},{"s":"Greece","d":"2013-07-10","v":9.2},{"s":"Greece","d":"2013-07-25","v":8.5},{"s":"Greece","d":"2013-08-18","v":7.9},{"s":"Greece","d":"2013-09-11","v":8.7},{"s":"Greece","d":"2013-09-26","v":8.2},{"s":"Greece","d":"2013-10-11","v":7.0},{"s":"Greece","d":"2013-10-26","v":6.5},{"s":"Greece","d":"2013-11-11","v":7.2},{"s":"Greece","d":"2013-11-27","v":7.3},{"s":"Greece","d":"2013-12-12","v":6.9},{"s":"Greece","d":"2014-01-04","v":6.0},{"s":"Greece","d":"2014-01-16","v":6.7},{"s":"Greece","d":"2014-02-01","v":7.1},{"s":"Greece","d":"2014-02-12","v":6.0},{"s":"Greece","d":"2014-02-24","v":5.6},{"s":"Greece","d":"2014-03-05","v":4.8},{"s":"Greece","d":"2014-03-13","v":5.6}
    ]
  },
  "vconcat": [
    {
      "width": 1790, "height": 852,
      "title": {"text": "Bank liquidity and solvency risk", "anchor": "start", "frame": "group", "orient": "top", "offset": 0, "dx": 58, "dy": 156, "fontSize": 40, "fontWeight": "bold", "color": "#333333", "baseline": "middle", "font": "Liberation Sans"},
      "data": {"name": "bank"},
      "resolve": {"axis": {"x": "independent", "y": "independent"}},
      "layer": [
        {
          "mark": {"type": "line", "clip": true, "strokeJoin": "round"},
          "encoding": {
            "x": {"field": "d", "type": "temporal",
              "scale": {"domain": [{"year": 2008, "month": 1, "date": 1}, {"year": 2014, "month": 7, "date": 1}]},
              "axis": {"orient": "bottom", "title": null, "tickCount": {"interval": "month", "step": 1},
                "labelExpr": "month(datum.value) == 6 ? (year(datum.value) == 2008 ? '2008' : timeFormat(datum.value, '%y')) : ''",
                "labelOverlap": false, "labelFlush": true, "labelFlushOffset": -9, "labelPadding": 24, "tickSize": -12}},
            "y": {"field": "v", "type": "quantitative", "scale": {"domain": [0, 700], "nice": false},
              "axis": {"orient": "left", "values": [0,100,200,300,400,500,600,700], "tickSize": -10, "labelPadding": 33,
                "title": "Basis points", "titleAngle": 0, "titleX": -145, "titleY": -49, "titleAlign": "left", "titleBaseline": "middle"}},
            "color": {"field": "s", "type": "nominal",
              "scale": {"domain": ["ea_cds","us_cds","ea_mm","us_mm"], "range": ["#262626","#0b72b8","#262626","#0b72b8"]},
              "legend": {"orient": "none", "legendX": 848, "legendY": 22, "title": null,
                "labelExpr": "datum.label == 'ea_cds' ? 'Credit default swap rate,¹ Euro area' : datum.label == 'us_cds' ? 'Credit default swap rate,¹ United States' : datum.label == 'ea_mm' ? 'Money market spreads,² Euro area' : 'Money market spreads,² United States'"}},
            "strokeDash": {"field": "s", "type": "nominal",
              "scale": {"domain": ["ea_cds","us_cds","ea_mm","us_mm"], "range": [[1,0],[1,0],[7,11],[6,11]]}},
            "strokeWidth": {"field": "s", "type": "nominal",
              "scale": {"type": "ordinal", "domain": ["ea_cds","us_cds","ea_mm","us_mm"], "range": [2.5,6,7,6]}}
          }
        },
        {
          "transform": [{"filter": "datum.s == 'ea_cds'"}],
          "mark": {"type": "line", "opacity": 0},
          "encoding": {
            "x": {"field": "d", "type": "temporal",
              "scale": {"domain": [{"year": 2008, "month": 1, "date": 1}, {"year": 2014, "month": 7, "date": 1}]},
              "axis": {"orient": "bottom", "title": null, "labels": false, "tickSize": -30,
                "values": [{"year": 2009, "month": 1, "date": 1}, {"year": 2010, "month": 1, "date": 1}, {"year": 2011, "month": 1, "date": 1}, {"year": 2012, "month": 1, "date": 1}, {"year": 2013, "month": 1, "date": 1}, {"year": 2014, "month": 1, "date": 1}]}},
            "y": {"field": "v", "type": "quantitative", "scale": {"domain": [0, 700], "nice": false},
              "axis": {"orient": "right", "values": [0,100,200,300,400,500,600,700], "tickSize": -10, "labelPadding": 37,
                "title": "Basis points", "titleAngle": 0, "titleX": 145, "titleY": -49, "titleAlign": "right", "titleBaseline": "middle"}}
          }
        }
      ]
    },
    {
      "width": 1790, "height": 1923,
      "title": {"text": "Sovereign bond spreads³", "anchor": "start", "frame": "group", "orient": "top", "offset": 0, "dx": 58, "dy": 156, "fontSize": 40, "fontWeight": "bold", "color": "#333333", "baseline": "middle", "font": "Liberation Sans"},
      "data": {"name": "sov"},
      "resolve": {"axis": {"x": "independent", "y": "independent"}},
      "layer": [
        {
          "mark": {"type": "line", "clip": true, "strokeJoin": "round"},
          "encoding": {
            "x": {"field": "d", "type": "temporal",
              "scale": {"domain": [{"year": 2008, "month": 1, "date": 1}, {"year": 2014, "month": 7, "date": 1}]},
              "axis": {"orient": "bottom", "title": null, "tickCount": {"interval": "month", "step": 1},
                "labelExpr": "month(datum.value) == 6 ? (year(datum.value) == 2008 ? '2008' : timeFormat(datum.value, '%y')) : ''",
                "labelOverlap": false, "labelFlush": true, "labelFlushOffset": -9, "labelPadding": 24, "tickSize": -12}},
            "y": {"field": "v", "type": "quantitative", "scale": {"domain": [0, 36], "nice": false},
              "axis": {"orient": "left", "values": [0,4,8,12,16,20,24,28,32,36], "tickSize": -10, "labelPadding": 33,
                "title": "Per cent", "titleAngle": 0, "titleX": -145, "titleY": -49, "titleAlign": "left", "titleBaseline": "middle"}},
            "color": {"field": "s", "type": "nominal",
              "scale": {"domain": ["France","Ireland","Italy","Portugal","Spain","Greece"], "range": ["#c8c8c8","#cfcfcf","#0b72b8","#0b72b8","#262626","#262626"]},
              "legend": {"orient": "none", "legendX": 77, "legendY": 396, "title": null}},
            "strokeDash": {"field": "s", "type": "nominal",
              "scale": {"domain": ["France","Ireland","Italy","Portugal","Spain","Greece"], "range": [[19,15],[1,0],[1,0],[5,13],[6,10],[1,0]]}},
            "strokeWidth": {"field": "s", "type": "nominal",
              "scale": {"type": "ordinal", "domain": ["France","Ireland","Italy","Portugal","Spain","Greece"], "range": [8,9,6,6,2.5,2.5]}}
          }
        },
        {
          "transform": [{"filter": "datum.s == 'Greece'"}],
          "mark": {"type": "line", "opacity": 0},
          "encoding": {
            "x": {"field": "d", "type": "temporal",
              "scale": {"domain": [{"year": 2008, "month": 1, "date": 1}, {"year": 2014, "month": 7, "date": 1}]},
              "axis": {"orient": "bottom", "title": null, "labels": false, "tickSize": -30,
                "values": [{"year": 2009, "month": 1, "date": 1}, {"year": 2010, "month": 1, "date": 1}, {"year": 2011, "month": 1, "date": 1}, {"year": 2012, "month": 1, "date": 1}, {"year": 2013, "month": 1, "date": 1}, {"year": 2014, "month": 1, "date": 1}]}},
            "y": {"field": "v", "type": "quantitative", "scale": {"domain": [0, 36], "nice": false},
              "axis": {"orient": "right", "values": [0,2,4,6,8,10,12,14,16,18,20,22,24,26,28,30,32,34,36], "tickSize": -10, "labelPadding": 37,
                "title": "Per cent", "titleAngle": 0, "titleX": 145, "titleY": -49, "titleAlign": "right", "titleBaseline": "middle"}}
          }
        }
      ]
    }
  ]
}
